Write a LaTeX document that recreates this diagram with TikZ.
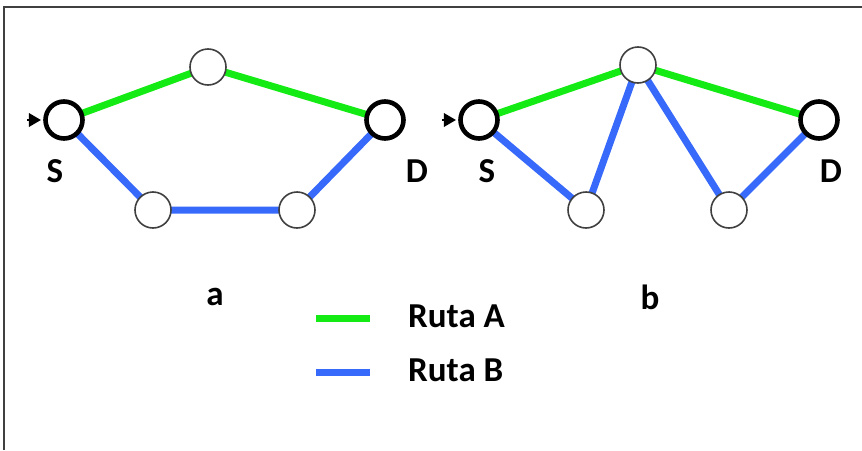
\documentclass[tikz,border=0pt]{standalone}
\usepackage{fontspec}
\setmainfont{Carlito}
\usetikzlibrary{arrows.meta,backgrounds}
\definecolor{routeA}{RGB}{20,235,20}
\definecolor{routeB}{RGB}{55,105,250}
\definecolor{framegray}{RGB}{64,64,64}
\tikzset{
  relay/.style={circle,draw=black!75,line width=1.6pt,fill=white,minimum size=36pt,inner sep=0pt},
  endpoint/.style={circle,draw=black,line width=4.6pt,fill=white,minimum size=37pt,inner sep=0pt},
  pathA/.style={routeA,line width=7pt},
  pathB/.style={routeB,line width=7pt},
  lbl/.style={font=\fontsize{35}{40}\selectfont\bfseries,inner sep=0pt},
  entry/.style={-{Triangle[length=12pt,width=14pt,line width=0pt]},line width=2pt,black,shorten >=2.3pt}
}
\begin{document}
\begin{tikzpicture}[x=1pt,y=-1pt]
\useasboundingbox (0,0) rectangle (862,450);
% partial frame: top and left edges
\draw[framegray,line width=2pt] (4,450) -- (4,7) -- (862,7);

% network a
\node[endpoint] (sa) at (64,120) {};
\node[relay] (ta) at (208,67) {};
\node[endpoint] (da) at (385,120) {};
\node[relay] (la) at (153,210) {};
\node[relay] (ra) at (297,210) {};
\coordinate (ina) at (27,120);

% network b
\node[endpoint] (sb) at (479,120) {};
\node[relay] (tb) at (638,65) {};
\node[endpoint] (db) at (819,120) {};
\node[relay] (lb) at (586,210) {};
\node[relay] (rb) at (729,210) {};
\coordinate (inb) at (442,120);

\begin{scope}[on background layer]
  \draw[pathA] (sa.center) -- (ta.center) -- (da.center);
  \draw[pathB] (sa.center) -- (la.center) -- (ra.center) -- (da.center);
  \draw[pathA] (sb.center) -- (tb.center) -- (db.center);
  \draw[pathB] (sb.center) -- (lb.center) -- (tb.center) -- (rb.center) -- (db.center);
\end{scope}

\draw[entry] (ina) -- (sa);
\draw[entry] (inb) -- (sb);

% endpoint labels
\node[lbl] (lsa) at (55,171) {S};
\node[lbl] (lda) at (417,171) {D};
\node[lbl] (lsb) at (487,171) {S};
\node[lbl] (ldb) at (831,171) {D};
\node[lbl] (capa) at (215,297) {a};
\node[lbl] (capb) at (650,297) {b};

% legend
\coordinate (ga0) at (316,318);
\coordinate (ga1) at (370,318);
\coordinate (gb0) at (316,372);
\coordinate (gb1) at (370,372);
\draw[pathA] (ga0) -- (ga1);
\draw[pathB] (gb0) -- (gb1);
\node[lbl,anchor=west] (legA) at (408,316) {Ruta A};
\node[lbl,anchor=west] (legB) at (408,370) {Ruta B};
\end{tikzpicture}
\end{document}
